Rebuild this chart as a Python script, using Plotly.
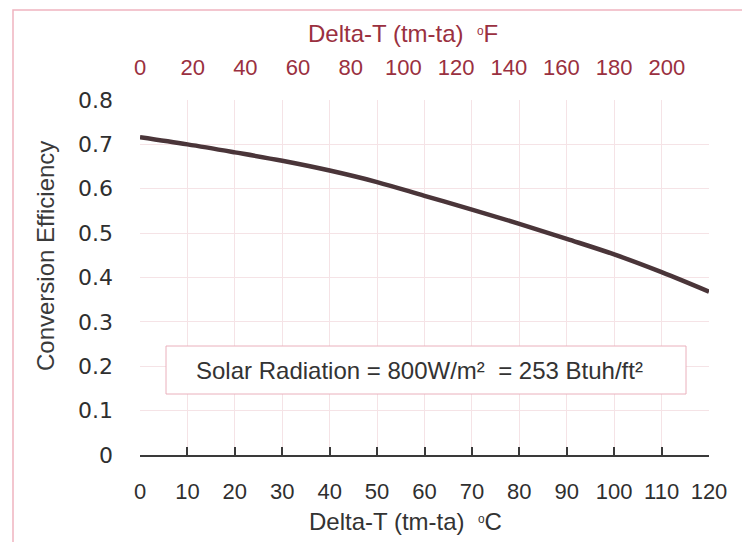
import plotly.graph_objects as go

# ---- data ----
delta_t_c = [0, 10, 20, 30, 40, 50, 60, 70, 80, 90, 100, 110, 120]
efficiency = [0.716, 0.700, 0.682, 0.663, 0.641, 0.615, 0.584, 0.553, 0.521, 0.487, 0.452, 0.412, 0.368]
f_ticks = [0, 20, 40, 60, 80, 100, 120, 140, 160, 180, 200]
c_ticks = [0, 10, 20, 30, 40, 50, 60, 70, 80, 90, 100, 110, 120]
y_ticks = [0, 0.1, 0.2, 0.3, 0.4, 0.5, 0.6, 0.7, 0.8]
legend_text = "Solar Radiation = 800W/m²  = 253 Btuh/ft²"

# page body adds an 8px offset; figure is sized to fill the rest of the window
OFF = 8
WIN_W, WIN_H = 750, 542
W, H = WIN_W - OFF, WIN_H - OFF
# plot area in window pixels: x 140..709, y 100..455
ML, MR, MT, MB = 140 - OFF, WIN_W - 709, 100 - OFF, WIN_H - 455
PW, PH = W - ML - MR, H - MT - MB


def px(xw):
    return (xw - OFF - ML) / PW


def py(yw):
    return (H - MB - (yw - OFF)) / PH


delta_t_f = [c * 1.8 for c in delta_t_c]

fig = go.Figure()
fig.add_trace(go.Scatter(
    x=delta_t_c, y=efficiency, mode="lines",
    line=dict(color="#4a3539", width=4.5, shape="spline"),
    showlegend=False, hoverinfo="x+y"))
fig.add_trace(go.Scatter(
    x=delta_t_f, y=efficiency, mode="lines", xaxis="x2",
    line=dict(color="rgba(0,0,0,0)", width=0),
    showlegend=False, hoverinfo="skip"))

grid = "#f5e3e6"
fig.update_layout(
    width=W, height=H,
    margin=dict(l=ML, r=MR, t=MT, b=MB),
    paper_bgcolor="white", plot_bgcolor="white",
    font=dict(family="Liberation Sans, Arial, sans-serif", color="#333333"),
    xaxis=dict(
        range=[0, 120], tickvals=c_ticks, showgrid=True, gridcolor=grid, gridwidth=1,
        zeroline=False, showline=True, linecolor="#3a3a3a", linewidth=2,
        ticks="inside", ticklen=8, tickwidth=2, tickcolor="#3a3a3a",
        tickfont=dict(size=22, color="#2f2f2f", family="Liberation Sans, Arial, sans-serif"),
        ticklabelstandoff=16,
    ),
    xaxis2=dict(
        range=[0, 120 * 1.8], tickvals=f_ticks, overlaying="x", side="top", anchor="y",
        showgrid=False, zeroline=False, showline=False, ticks="",
        tickfont=dict(size=22, color="#9a3040", family="Liberation Sans, Arial, sans-serif"),
        ticklabelstandoff=20,
    ),
    yaxis=dict(
        range=[0, 0.8], tickvals=y_ticks, ticktext=[f"{v:g}" for v in y_ticks],
        showgrid=True, gridcolor=grid, gridwidth=1,
        zeroline=False, showline=False, ticks="",
        tickfont=dict(size=22, color="#2f2f2f", family="DejaVu Sans, sans-serif"),
        ticklabelstandoff=26,
    ),
)

# outer pink frame
fig.add_shape(type="rect", xref="paper", yref="paper",
              x0=px(13), x1=px(744), y0=py(580), y1=py(10),
              line=dict(color="#f0b4c0", width=1.5), layer="below")

# legend-like text box
fig.add_shape(type="rect", xref="paper", yref="paper",
              x0=px(166), x1=px(686), y0=py(394), y1=py(346),
              line=dict(color="#eab0bc", width=1), fillcolor="white", layer="above")
fig.add_annotation(xref="paper", yref="paper", x=px(419), y=py(370),
                   text=legend_text, showarrow=False,
                   font=dict(size=24, color="#333333"), xanchor="center", yanchor="middle")

deg = "<span style='font-size:17px'><sup>o</sup></span>"
# axis titles
fig.add_annotation(xref="paper", yref="paper", x=px(405), y=py(521),
                   text="Delta-T (tm-ta)  " + deg + "C", showarrow=False,
                   font=dict(size=24, color="#333333"), xanchor="center", yanchor="middle")
fig.add_annotation(xref="paper", yref="paper", x=px(403), y=py(33),
                   text="Delta-T (tm-ta)  " + deg + "F", showarrow=False,
                   font=dict(size=24, color="#9a3040"), xanchor="center", yanchor="middle")
fig.add_annotation(xref="paper", yref="paper", x=px(45), y=py(256),
                   text="Conversion Efficiency", showarrow=False, textangle=-90,
                   font=dict(size=24, color="#3a3a3a"), xanchor="center", yanchor="middle")

fig.write_html("out.html")
